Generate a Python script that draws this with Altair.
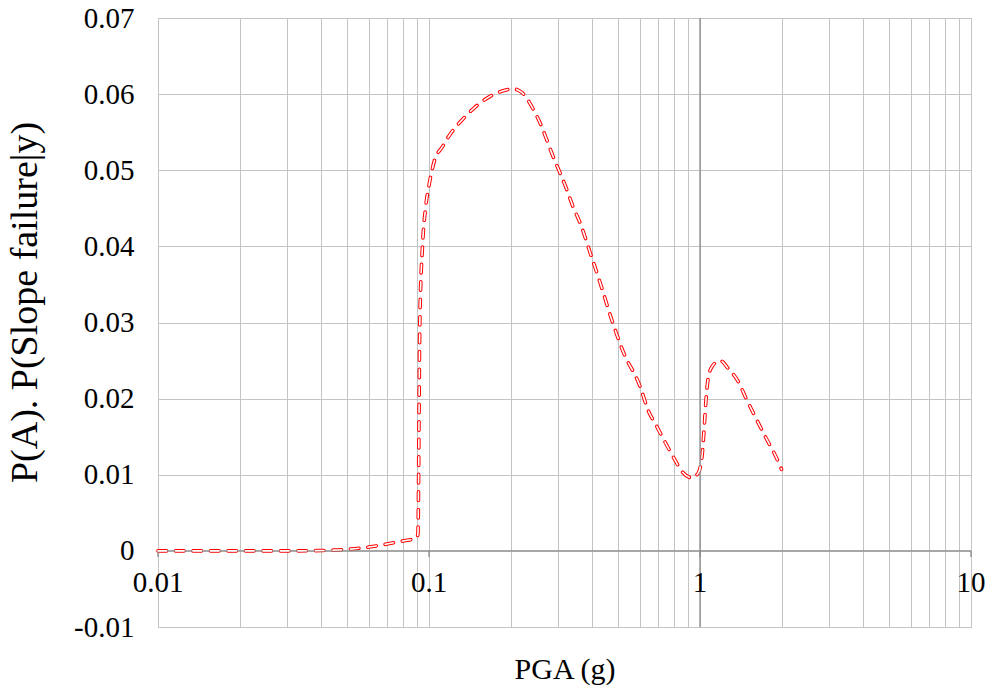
import altair as alt
import pandas as pd

# curve data (PGA in g, probability)
pga = [0.01, 0.02, 0.03, 0.04, 0.05, 0.06, 0.07, 0.08, 0.09, 0.091, 0.0925, 0.0946, 0.0971, 0.1,
       0.105, 0.1117, 0.1195, 0.1324, 0.148, 0.168, 0.1907, 0.204, 0.2204, 0.240, 0.257, 0.272,
       0.287, 0.304, 0.323, 0.34, 0.361, 0.393, 0.43, 0.473, 0.52, 0.601, 0.643, 0.694, 0.743,
       0.795, 0.859, 0.934, 0.984, 1.017, 1.035, 1.052, 1.07, 1.107, 1.186, 1.268, 1.37, 1.49,
       1.62, 1.766, 1.892, 2.0]
prob = [0.0, 0.0, 0.0, 0.00005, 0.0002, 0.0005, 0.0009, 0.0013, 0.0017, 0.0022, 0.030, 0.040, 0.045, 0.048,
        0.0514, 0.053, 0.0547, 0.0566, 0.0583, 0.0597, 0.0605, 0.0607, 0.0602, 0.0583, 0.0562, 0.054,
        0.0518, 0.0497, 0.0474, 0.0452, 0.0431, 0.0392, 0.0350, 0.0303, 0.0262, 0.0216, 0.0185, 0.0163, 0.0143,
        0.0124, 0.0104, 0.0096, 0.0102, 0.0124, 0.0159, 0.0198, 0.0225, 0.0242, 0.025, 0.024, 0.0225, 0.0198,
        0.0172, 0.0146, 0.0126, 0.0107]

x_major = [0.01, 0.1, 1, 10]
x_major_labels = ["0.01", "0.1", "1", "10"]
x_grid = [m * d for d in [0.01, 0.1, 1] for m in range(1, 10)] + [10]
y_ticks = [-0.01, 0.0, 0.01, 0.02, 0.03, 0.04, 0.05, 0.06, 0.07]

FONT = "Liberation Serif, Times New Roman, serif"

df = pd.DataFrame({"pga": pga, "prob": prob})
xscale = alt.Scale(type="log", domain=[0.01, 10], nice=False)
yscale = alt.Scale(domain=[-0.01, 0.07], nice=False, zero=False)

base_x = alt.X("pga:Q", scale=xscale,
               axis=alt.Axis(values=x_grid, labels=False, ticks=False, domain=False,
                             grid=True, gridColor="#c4c4c4", gridWidth=1,
                             title="PGA (g)", titleFont=FONT, titleFontSize=30,
                             titleFontWeight="normal", titleColor="black",
                             titleBaseline="alphabetic", titleY=51))
base_y = alt.Y("prob:Q", scale=yscale,
               axis=alt.Axis(values=y_ticks, ticks=False, domain=False, grid=True,
                             gridColor="#c4c4c4", gridWidth=1,
                             labelExpr="abs(datum.value) < 1e-9 ? '0' : (datum.value < 0 ? '-' + format(-datum.value, '.2f') : format(datum.value, '.2f'))",
                             labelFont=FONT, labelFontSize=29, labelColor="black", labelPadding=24,
                             title="P(A). P(Slope failure|y)", titleFont=FONT, titleFontSize=38,
                             titleFontWeight="normal", titleColor="black",
                             titleBaseline="alphabetic", titleX=-122, titleY=284))

outer = alt.Chart(df).mark_line(color="#ff0000", strokeWidth=3.6, strokeDash=[8.5, 9],
                                strokeCap="round", interpolate="monotone").encode(x=base_x, y=base_y)
inner = alt.Chart(df).mark_line(color="#ffffff", strokeWidth=1.6, strokeDash=[8.5, 9],
                                strokeCap="round", interpolate="monotone").encode(
    x=alt.X("pga:Q", scale=xscale), y=alt.Y("prob:Q", scale=yscale))

# x axis line at y = 0
axis_df = pd.DataFrame({"x": [x_major[0]], "x2": [x_major[-1]], "y": [0.0]})
axis_line = alt.Chart(axis_df).mark_rule(color="#8a8a8a", strokeWidth=1.3).encode(
    x=alt.X("x:Q", scale=xscale), x2="x2:Q", y=alt.Y("y:Q", scale=yscale))

# darker vertical line at x = 1
one_df = pd.DataFrame({"x": [1.0], "y": [y_ticks[0]], "y2": [y_ticks[-1]]})
one_line = alt.Chart(one_df).mark_rule(color="#8a8a8a", strokeWidth=1.3).encode(
    x=alt.X("x:Q", scale=xscale), y=alt.Y("y:Q", scale=yscale), y2="y2:Q")

# small tick marks below the axis line at major values
tick_df = pd.DataFrame({"x": x_major, "y": [0.0] * 4, "y2": [-0.0008] * 4})
ticks = alt.Chart(tick_df).mark_rule(color="#8a8a8a", strokeWidth=1.3).encode(
    x=alt.X("x:Q", scale=xscale), y=alt.Y("y:Q", scale=yscale), y2="y2:Q")

lab_df = pd.DataFrame({"x": x_major, "y": [0.0] * 4, "t": x_major_labels})
labels = alt.Chart(lab_df).mark_text(font=FONT, fontSize=29, color="black", dy=32,
                                     baseline="middle", align="center").encode(
    x=alt.X("x:Q", scale=xscale), y=alt.Y("y:Q", scale=yscale), text="t:N")

chart = alt.layer(outer, axis_line, one_line, ticks, inner, labels).properties(
    width=813, height=609,
    autosize=alt.AutoSizeParams(type="none"),
    padding={"left": 150, "top": 10, "right": 14, "bottom": 59},
    background="white",
).configure_view(stroke="#c4c4c4", strokeWidth=1)

chart.save("out.html", embed_options={"renderer": "svg", "actions": False})
